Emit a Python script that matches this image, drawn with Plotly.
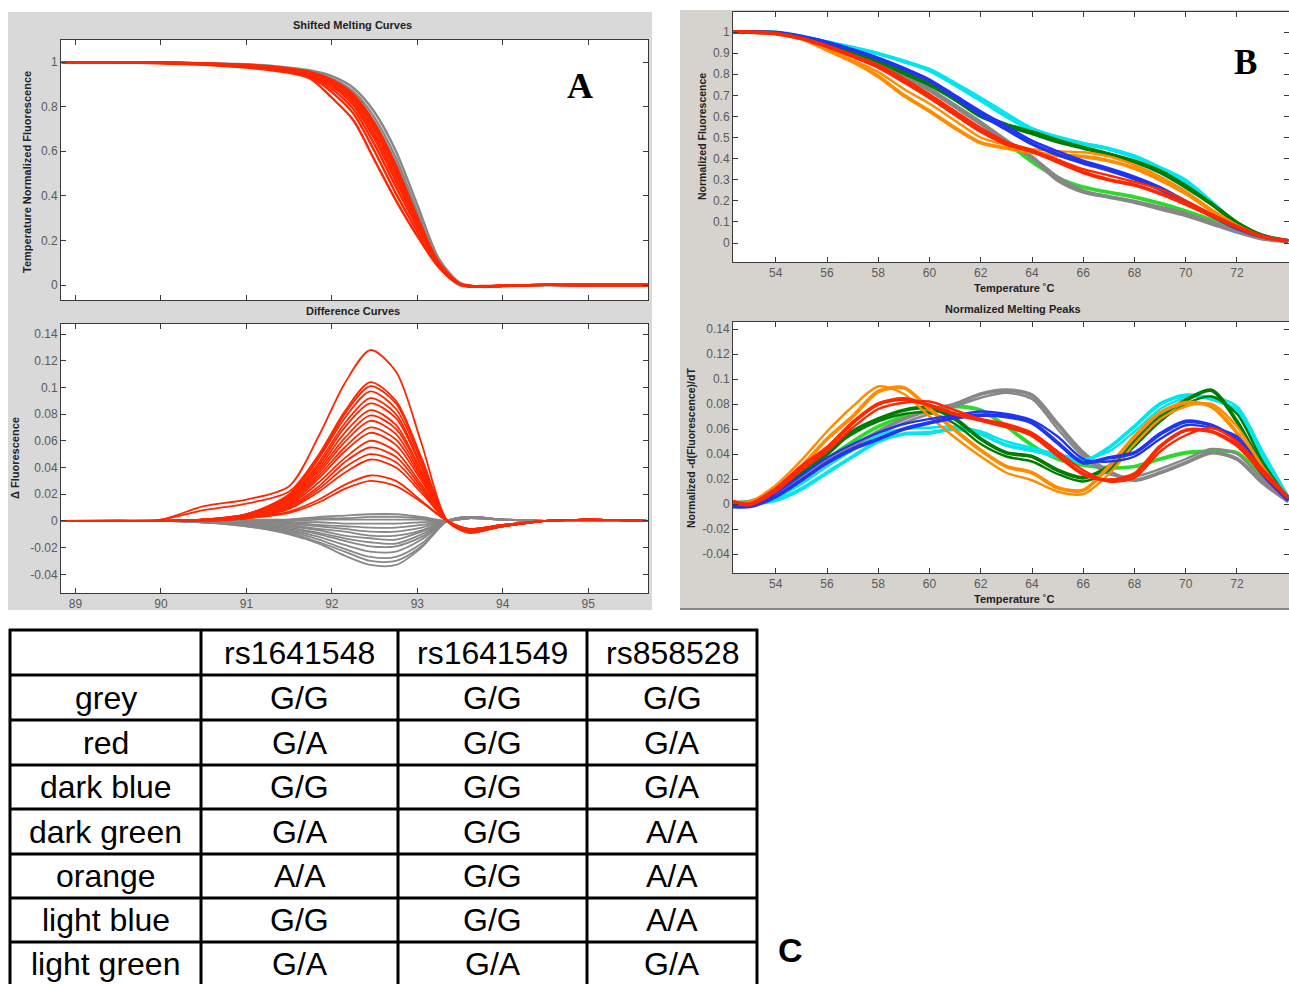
import plotly.graph_objects as go

W, H = 1289, 984


def px(x):
    return x / W


def py(y):
    return 1 - y / H


# ---------------- Panel A : shifted melting curves ----------------
a_top_x = [88.84, 89.5, 90.0, 90.5, 91.0, 91.25, 91.5, 91.75, 92.0, 92.25,
           92.5, 92.75, 93.0, 93.25, 93.5, 93.75, 94.0, 94.5, 95.0, 95.7]
a_top_grey = [
    [1.0, 1.0, 0.998, 0.995, 0.99, 0.985, 0.975, 0.962, 0.937, 0.885, 0.775, 0.6, 0.36, 0.12, 0.01, -0.008, -0.005, 0.0, 0.0, 0.0],
    [1.0, 1.0, 0.998, 0.994, 0.988, 0.982, 0.971, 0.955, 0.926, 0.868, 0.75, 0.57, 0.33, 0.1, 0.005, -0.008, -0.004, 0.0, 0.0, 0.0],
    [1.0, 1.0, 0.997, 0.993, 0.986, 0.979, 0.966, 0.948, 0.915, 0.852, 0.728, 0.545, 0.31, 0.09, 0.003, -0.007, -0.004, 0.0, 0.0, 0.0],
]
a_top_red = [
    [1.0, 0.998, 0.994, 0.988, 0.975, 0.965, 0.952, 0.925, 0.84, 0.74, 0.56, 0.38, 0.22, 0.08, 0.0, -0.004, -0.002, 0.002, 0.0, 0.0],
    [1.0, 0.999, 0.996, 0.99, 0.979, 0.97, 0.958, 0.935, 0.865, 0.77, 0.6, 0.41, 0.24, 0.085, 0.002, -0.006, -0.003, 0.001, 0.0, 0.0],
    [1.0, 0.999, 0.997, 0.991, 0.982, 0.973, 0.962, 0.94, 0.88, 0.79, 0.63, 0.44, 0.26, 0.095, 0.003, -0.007, -0.003, 0.001, 0.0, 0.0],
    [1.0, 1.0, 0.997, 0.992, 0.984, 0.976, 0.965, 0.945, 0.893, 0.808, 0.655, 0.465, 0.275, 0.1, 0.004, -0.007, -0.003, 0.001, 0.0, 0.0],
    [1.0, 1.0, 0.997, 0.993, 0.985, 0.978, 0.967, 0.948, 0.9, 0.822, 0.675, 0.485, 0.285, 0.1, 0.004, -0.007, -0.003, 0.001, 0.0, 0.0],
    [1.0, 1.0, 0.998, 0.993, 0.986, 0.979, 0.968, 0.951, 0.908, 0.835, 0.695, 0.505, 0.295, 0.1, 0.004, -0.007, -0.003, 0.001, 0.0, 0.0],
    [1.0, 1.0, 0.998, 0.994, 0.987, 0.98, 0.969, 0.953, 0.915, 0.845, 0.71, 0.52, 0.3, 0.1, 0.004, -0.007, -0.003, 0.001, 0.0, 0.0],
    [1.0, 1.0, 0.998, 0.994, 0.987, 0.981, 0.97, 0.955, 0.92, 0.855, 0.725, 0.535, 0.305, 0.1, 0.004, -0.007, -0.003, 0.001, 0.0, 0.0],
]

# ---------------- Panel A : difference curves ----------------
a_bot_x = [88.84, 89.5, 90.0, 90.5, 91.0, 91.5, 91.85, 92.15, 92.45, 92.75,
           93.05, 93.35, 93.6, 94.0, 94.5, 95.0, 95.7]
a_bot_grey = [
    [0, 0, 0, 0.0, 0.001, 0.001, 0.003, 0.004, 0.005, 0.005, 0.003, 0.0, 0.002, 0.001, 0, 0, 0],
    [0, 0, 0, 0.0, 0.0, 0.001, 0.002, 0.002, 0.003, 0.003, 0.002, 0.0, 0.002, 0.001, 0, 0, 0],
    [0, 0, 0, 0.0, 0.0, 0.0, 0.001, 0.001, 0.001, 0.001, 0.001, 0.0, 0.002, 0.001, 0, 0, 0],
    [0, 0, 0, 0.0, 0.0, -0.001, -0.001, -0.002, -0.002, -0.002, -0.001, 0.0, 0.002, 0.001, 0, 0, 0],
    [0, 0, 0, 0.0, -0.001, -0.001, -0.003, -0.004, -0.005, -0.005, -0.003, 0.0, 0.002, 0.001, 0, 0, 0],
    [0, 0, 0, 0.0, -0.001, -0.002, -0.004, -0.006, -0.008, -0.008, -0.005, 0.0, 0.003, 0.001, 0, 0, 0],
    [0, 0, 0, 0.0, -0.001, -0.003, -0.006, -0.008, -0.011, -0.011, -0.007, 0.0, 0.003, 0.001, 0, 0, 0],
    [0, 0, 0, 0.0, -0.002, -0.004, -0.007, -0.011, -0.013, -0.014, -0.008, 0.0, 0.003, 0.001, 0, 0, 0],
    [0, 0, 0, -0.001, -0.002, -0.005, -0.009, -0.013, -0.016, -0.017, -0.010, 0.0, 0.003, 0.001, 0, 0, 0],
    [0, 0, 0, -0.001, -0.002, -0.006, -0.010, -0.015, -0.019, -0.019, -0.012, 0.0, 0.003, 0.001, 0, 0, 0],
    [0, 0, 0, -0.001, -0.003, -0.007, -0.012, -0.018, -0.023, -0.023, -0.014, 0.0, 0.003, 0.001, 0, 0, 0],
    [0, 0, 0, -0.001, -0.003, -0.008, -0.014, -0.021, -0.027, -0.027, -0.017, 0.0, 0.003, 0.001, 0, 0, 0],
    [0, 0, 0, -0.001, -0.004, -0.009, -0.016, -0.023, -0.030, -0.030, -0.019, 0.0, 0.003, 0.001, 0, 0, 0],
    [0, 0, 0, -0.001, -0.004, -0.010, -0.017, -0.026, -0.033, -0.033, -0.020, 0.0, 0.003, 0.001, 0, 0, 0],
]
a_bot_red = [
    [0, 0.0005, 0.001, 0.011, 0.016, 0.026, 0.064, 0.103, 0.128, 0.112, 0.058, 0.0, -0.009, -0.004, 0.0, 0.001, 0.0],
    [0, 0.0, 0.001, 0.008, 0.013, 0.022, 0.050, 0.082, 0.104, 0.090, 0.047, 0.0, -0.008, -0.004, 0.0, 0.001, 0.0],
    [0, 0, 0, 0.001, 0.005, 0.020, 0.048, 0.080, 0.101, 0.088, 0.046, 0.0, -0.008, -0.004, 0, 0.001, 0],
    [0, 0, 0, 0.001, 0.005, 0.019, 0.047, 0.077, 0.097, 0.084, 0.044, 0.0, -0.008, -0.004, 0, 0.001, 0],
    [0, 0, 0, 0.001, 0.005, 0.018, 0.044, 0.073, 0.092, 0.080, 0.041, 0.0, -0.007, -0.004, 0, 0.001, 0],
    [0, 0, 0, 0.001, 0.004, 0.018, 0.042, 0.070, 0.088, 0.077, 0.040, 0.0, -0.008, -0.004, 0, 0.001, 0],
    [0, 0, 0, 0.001, 0.004, 0.017, 0.040, 0.066, 0.083, 0.072, 0.037, 0.0, -0.007, -0.004, 0, 0.001, 0],
    [0, 0, 0, 0.001, 0.004, 0.016, 0.038, 0.062, 0.079, 0.069, 0.036, 0.0, -0.008, -0.004, 0, 0.001, 0],
    [0, 0, 0, 0.001, 0.004, 0.015, 0.036, 0.059, 0.075, 0.065, 0.034, 0.0, -0.007, -0.004, 0, 0.001, 0],
    [0, 0, 0, 0.001, 0.004, 0.014, 0.034, 0.055, 0.070, 0.061, 0.032, 0.0, -0.007, -0.004, 0, 0.001, 0],
    [0, 0, 0, 0.001, 0.003, 0.013, 0.032, 0.052, 0.066, 0.057, 0.030, 0.0, -0.007, -0.004, 0, 0.001, 0],
    [0, 0, 0, 0.001, 0.003, 0.012, 0.029, 0.047, 0.060, 0.052, 0.027, 0.0, -0.007, -0.004, 0, 0.001, 0],
    [0, 0, 0, 0.001, 0.003, 0.011, 0.026, 0.044, 0.055, 0.048, 0.025, 0.0, -0.006, -0.003, 0, 0.001, 0],
    [0, 0, 0, 0.001, 0.003, 0.010, 0.024, 0.040, 0.050, 0.044, 0.023, 0.0, -0.007, -0.003, 0, 0.001, 0],
    [0, 0, 0, 0.001, 0.002, 0.009, 0.022, 0.036, 0.046, 0.040, 0.021, 0.0, -0.006, -0.003, 0, 0.001, 0],
    [0, 0, 0, 0.0, 0.002, 0.007, 0.016, 0.027, 0.034, 0.030, 0.015, 0.0, -0.006, -0.003, 0, 0.001, 0],
    [0, 0, 0, 0.0, 0.002, 0.006, 0.014, 0.024, 0.030, 0.026, 0.014, 0.0, -0.006, -0.003, 0, 0.001, 0],
]

# ---------------- Panel B : temperatures ----------------
b_x = [52.33, 53, 54, 55, 56, 57, 58, 59, 60, 61, 62, 63, 64, 65, 66, 67,
       68, 69, 70, 71, 72, 73, 74]

# normalized fluorescence (melting curves)
b_top_lightgreen = [
    [1.0, 1.0, 0.995, 0.975, 0.945, 0.905, 0.86, 0.795, 0.725, 0.65, 0.57, 0.478, 0.385, 0.31, 0.265, 0.24, 0.218, 0.188, 0.152, 0.11, 0.068, 0.028, 0.01],
]
b_top_grey = [
    [1.0, 1.0, 0.995, 0.975, 0.945, 0.905, 0.858, 0.79, 0.725, 0.645, 0.565, 0.48, 0.405, 0.298, 0.242, 0.218, 0.194, 0.162, 0.131, 0.092, 0.052, 0.02, 0.008],
    [1.0, 1.0, 0.996, 0.978, 0.95, 0.91, 0.865, 0.8, 0.735, 0.655, 0.575, 0.49, 0.41, 0.315, 0.25, 0.222, 0.2, 0.172, 0.142, 0.102, 0.06, 0.025, 0.009],
]
b_top_cyan = [
    [1.0, 1.0, 0.998, 0.98, 0.952, 0.925, 0.897, 0.86, 0.818, 0.75, 0.676, 0.6, 0.534, 0.5, 0.47, 0.445, 0.407, 0.355, 0.29, 0.19, 0.09, 0.035, 0.01],
    [1.0, 1.0, 0.998, 0.982, 0.955, 0.93, 0.9, 0.865, 0.825, 0.76, 0.69, 0.615, 0.545, 0.505, 0.475, 0.45, 0.415, 0.36, 0.3, 0.2, 0.095, 0.037, 0.01],
]
b_top_darkgreen = [
    [1.0, 1.0, 0.996, 0.975, 0.945, 0.905, 0.86, 0.805, 0.75, 0.68, 0.6, 0.555, 0.52, 0.48, 0.45, 0.42, 0.385, 0.335, 0.265, 0.185, 0.095, 0.035, 0.01],
    [1.0, 1.0, 0.996, 0.976, 0.947, 0.91, 0.865, 0.812, 0.755, 0.69, 0.615, 0.565, 0.53, 0.49, 0.455, 0.425, 0.39, 0.345, 0.275, 0.19, 0.1, 0.037, 0.01],
]
b_top_orange = [
    [1.0, 1.0, 0.993, 0.968, 0.915, 0.86, 0.79, 0.7, 0.625, 0.545, 0.475, 0.45, 0.43, 0.415, 0.41, 0.39, 0.355, 0.3, 0.235, 0.155, 0.08, 0.03, 0.01],
    [1.0, 1.0, 0.994, 0.97, 0.92, 0.868, 0.81, 0.73, 0.66, 0.58, 0.5, 0.465, 0.445, 0.435, 0.43, 0.41, 0.37, 0.315, 0.245, 0.16, 0.085, 0.032, 0.01],
]
b_top_blue = [
    [1.0, 1.0, 0.997, 0.978, 0.95, 0.915, 0.874, 0.825, 0.77, 0.69, 0.61, 0.54, 0.47, 0.42, 0.38, 0.345, 0.305, 0.255, 0.195, 0.13, 0.07, 0.03, 0.01],
    [1.0, 1.0, 0.997, 0.98, 0.953, 0.918, 0.878, 0.83, 0.775, 0.7, 0.625, 0.555, 0.485, 0.435, 0.39, 0.355, 0.315, 0.265, 0.2, 0.135, 0.072, 0.03, 0.01],
]
b_top_red = [
    [1.0, 1.0, 0.993, 0.97, 0.932, 0.885, 0.834, 0.765, 0.69, 0.61, 0.53, 0.47, 0.435, 0.385, 0.335, 0.3, 0.275, 0.235, 0.185, 0.13, 0.075, 0.03, 0.01],
    [1.0, 1.0, 0.994, 0.972, 0.936, 0.892, 0.845, 0.78, 0.705, 0.625, 0.545, 0.48, 0.44, 0.395, 0.35, 0.32, 0.29, 0.255, 0.2, 0.138, 0.08, 0.032, 0.01],
]

# normalized melting peaks (-dF/dT)
b_bot_lightgreen = [
    [0.001, 0.002, 0.01, 0.022, 0.036, 0.05, 0.062, 0.07, 0.075, 0.078, 0.075, 0.062, 0.047, 0.036, 0.031, 0.029, 0.03, 0.036, 0.041, 0.042, 0.041, 0.021, 0.002],
]
b_bot_grey = [
    [0.001, 0.002, 0.01, 0.022, 0.035, 0.046, 0.058, 0.068, 0.075, 0.08, 0.088, 0.091, 0.087, 0.064, 0.041, 0.026, 0.019, 0.025, 0.033, 0.041, 0.036, 0.017, 0.002],
    [0.001, 0.001, 0.008, 0.02, 0.032, 0.043, 0.055, 0.065, 0.072, 0.078, 0.085, 0.089, 0.084, 0.06, 0.038, 0.024, 0.022, 0.028, 0.036, 0.044, 0.04, 0.02, 0.003],
]
b_bot_cyan = [
    [0.0, 0.0, 0.003, 0.012, 0.025, 0.038, 0.05, 0.056, 0.057, 0.06, 0.056, 0.047, 0.043, 0.038, 0.034, 0.045, 0.062, 0.08, 0.087, 0.084, 0.075, 0.038, 0.005],
    [0.0, 0.0, 0.005, 0.016, 0.03, 0.043, 0.055, 0.06, 0.061, 0.062, 0.058, 0.05, 0.045, 0.04, 0.036, 0.042, 0.058, 0.076, 0.085, 0.086, 0.078, 0.042, 0.006],
]
b_bot_darkgreen = [
    [0.0, 0.0, 0.01, 0.025, 0.04, 0.058, 0.068, 0.075, 0.077, 0.068, 0.052, 0.041, 0.038, 0.027, 0.021, 0.03, 0.05, 0.07, 0.083, 0.091, 0.066, 0.03, 0.003],
    [0.0, 0.001, 0.012, 0.027, 0.042, 0.056, 0.066, 0.072, 0.073, 0.064, 0.048, 0.038, 0.034, 0.024, 0.018, 0.027, 0.046, 0.066, 0.08, 0.086, 0.072, 0.034, 0.004],
]
b_bot_orange = [
    [0.001, 0.001, 0.012, 0.03, 0.052, 0.07, 0.09, 0.093, 0.076, 0.059, 0.043, 0.03, 0.025, 0.013, 0.011, 0.03, 0.054, 0.073, 0.081, 0.078, 0.057, 0.027, 0.003],
    [0.0, 0.002, 0.015, 0.035, 0.058, 0.078, 0.094, 0.088, 0.07, 0.053, 0.038, 0.025, 0.019, 0.01, 0.008, 0.024, 0.048, 0.068, 0.078, 0.08, 0.062, 0.03, 0.004],
]
b_bot_blue = [
    [-0.002, -0.002, 0.006, 0.019, 0.033, 0.044, 0.052, 0.06, 0.065, 0.069, 0.071, 0.07, 0.065, 0.049, 0.033, 0.037, 0.041, 0.056, 0.066, 0.063, 0.051, 0.024, 0.003],
    [-0.001, -0.002, 0.009, 0.023, 0.037, 0.048, 0.057, 0.064, 0.068, 0.071, 0.074, 0.072, 0.067, 0.054, 0.036, 0.034, 0.038, 0.052, 0.063, 0.061, 0.054, 0.027, 0.004],
]
b_bot_red = [
    [0.002, 0.0, 0.012, 0.03, 0.045, 0.065, 0.08, 0.084, 0.079, 0.072, 0.067, 0.062, 0.055, 0.039, 0.024, 0.019, 0.024, 0.046, 0.059, 0.058, 0.047, 0.025, 0.005],
    [0.001, -0.001, 0.01, 0.027, 0.042, 0.061, 0.076, 0.081, 0.082, 0.075, 0.068, 0.064, 0.057, 0.042, 0.027, 0.018, 0.021, 0.042, 0.055, 0.061, 0.05, 0.028, 0.006],
]

# ---------------- Ticks ----------------
a_xticks = [89, 90, 91, 92, 93, 94, 95]
a_xlabels = ["89", "90", "91", "92", "93", "94", "95"]
a_top_yticks = [0, 0.2, 0.4, 0.6, 0.8, 1]
a_top_ylabels = ["0", "0.2", "0.4", "0.6", "0.8", "1"]
diff_yticks = [-0.04, -0.02, 0, 0.02, 0.04, 0.06, 0.08, 0.1, 0.12, 0.14]
diff_ylabels = ["-0.04", "-0.02", "0", "0.02", "0.04", "0.06", "0.08", "0.1", "0.12", "0.14"]
b_xticks = [54, 56, 58, 60, 62, 64, 66, 68, 70, 72, 74]
b_xlabels = ["54", "56", "58", "60", "62", "64", "66", "68", "70", "72", "74"]
b_top_yticks = [0, 0.1, 0.2, 0.3, 0.4, 0.5, 0.6, 0.7, 0.8, 0.9, 1]
b_top_ylabels = ["0", "0.1", "0.2", "0.3", "0.4", "0.5", "0.6", "0.7", "0.8", "0.9", "1"]

# ---------------- Table C ----------------
snp_ids = ["rs1641548", "rs1641549", "rs858528"]
group_names = ["grey", "red", "dark blue", "dark green", "orange", "light blue", "light green"]
genotypes = [
    ["G/G", "G/G", "G/G"],
    ["G/A", "G/G", "G/A"],
    ["G/G", "G/G", "G/A"],
    ["G/A", "G/G", "A/A"],
    ["A/A", "G/G", "A/A"],
    ["G/G", "G/G", "A/A"],
    ["G/A", "G/A", "G/A"],
]

COL = {
    "grey": "#878787",
    "red": "#FF2600",
    "blue": "#1F35F2",
    "darkgreen": "#007D00",
    "orange": "#FF8C00",
    "cyan": "#00E5EE",
    "lightgreen": "#2BDB2B",
}

fig = go.Figure()


def add_curves(xs, curves, color, xa, ya, widths):
    for i, ys in enumerate(curves):
        w = widths[min(i, len(widths) - 1)]
        fig.add_trace(go.Scatter(x=xs, y=ys, mode="lines", xaxis=xa, yaxis=ya,
                                 line=dict(color=color, width=w, shape="spline", smoothing=0.8),
                                 hoverinfo="skip", showlegend=False))


add_curves(a_top_x, a_top_grey, COL["grey"], "x", "y", [2.4])
add_curves(a_top_x, a_top_red, COL["red"], "x", "y", [2.4])
add_curves(a_bot_x, a_bot_grey, COL["grey"], "x2", "y2", [1.8])
add_curves(a_bot_x, a_bot_red, COL["red"], "x2", "y2", [1.8])

for grp in ["lightgreen", "grey", "cyan", "darkgreen", "orange", "blue", "red"]:
    add_curves(b_x, globals()["b_top_" + grp], COL[grp], "x3", "y3", [3.8, 2.4])
    add_curves(b_x, globals()["b_bot_" + grp], COL[grp], "x4", "y4", [3.8, 2.4])

tickfont = dict(family="Liberation Sans, Arial, sans-serif", size=12, color="#5a5a5a")
base_ax = dict(showline=True, linecolor="#3a3a3a", linewidth=1, mirror="ticks",
               ticks="inside", ticklen=5, tickcolor="#3a3a3a", showgrid=False,
               zeroline=False, tickfont=tickfont, fixedrange=True)

dA_x = [px(61), px(648)]
dB_x = [px(733), px(1289)]

fig.update_layout(
    width=W, height=H, autosize=False,
    margin=dict(l=0, r=0, t=0, b=0),
    paper_bgcolor="white", plot_bgcolor="rgba(0,0,0,0)",
    showlegend=False,
    xaxis=dict(base_ax, domain=dA_x, range=[88.83, 95.7], tickvals=a_xticks,
               ticktext=a_xlabels, showticklabels=False, anchor="y"),
    yaxis=dict(base_ax, domain=[py(300), py(40)], range=[-0.067, 1.099],
               tickvals=a_top_yticks, ticktext=a_top_ylabels, anchor="x"),
    xaxis2=dict(base_ax, domain=dA_x, range=[88.83, 95.7], tickvals=a_xticks,
                ticktext=a_xlabels, anchor="y2"),
    yaxis2=dict(base_ax, domain=[py(593), py(324)], range=[-0.054, 0.1475],
                tickvals=diff_yticks, ticktext=diff_ylabels, anchor="x2"),
    xaxis3=dict(base_ax, domain=dB_x, range=[52.33, 74.03], tickvals=b_xticks,
                ticktext=b_xlabels, anchor="y3"),
    yaxis3=dict(base_ax, domain=[py(262), py(12)], range=[-0.09, 1.095],
                tickvals=b_top_yticks, ticktext=b_top_ylabels, anchor="x3"),
    xaxis4=dict(base_ax, domain=dB_x, range=[52.33, 74.03], tickvals=b_xticks,
                ticktext=b_xlabels, anchor="y4"),
    yaxis4=dict(base_ax, domain=[py(573), py(322)], range=[-0.0552, 0.1456],
                tickvals=diff_yticks, ticktext=diff_ylabels, anchor="x4"),
)

shapes = []
# grey figure windows
shapes.append(dict(type="rect", xref="paper", yref="paper", layer="below",
                   x0=px(8), x1=px(652), y0=py(610), y1=py(12),
                   fillcolor="#D9D9D9", line=dict(width=0)))
shapes.append(dict(type="rect", xref="paper", yref="paper", layer="below",
                   x0=px(680), x1=px(1289), y0=py(610), y1=py(10),
                   fillcolor="#D6D3CE", line=dict(width=0)))
shapes.append(dict(type="line", xref="paper", yref="paper", layer="below",
                   x0=px(680), x1=px(1289), y0=py(609), y1=py(609),
                   line=dict(color="#707070", width=1.5)))
# white plot areas
for (x0, x1, y0, y1) in [(61, 648, 40, 300), (61, 648, 324, 593),
                         (733, 1289, 12, 262), (733, 1289, 322, 573)]:
    shapes.append(dict(type="rect", xref="paper", yref="paper", layer="below",
                       x0=px(x0), x1=px(x1), y0=py(y1), y1=py(y0),
                       fillcolor="white", line=dict(width=0)))

# table grid
t_left, t_right = 10, 757
col_edges = [10, 201, 398, 587, 757]
row_edges = [630, 675, 720, 765, 809, 854, 898, 942]
for yy in row_edges:
    shapes.append(dict(type="line", xref="paper", yref="paper",
                       x0=px(t_left - 1), x1=px(t_right + 1), y0=py(yy), y1=py(yy),
                       line=dict(color="black", width=3)))
for xx in col_edges:
    shapes.append(dict(type="line", xref="paper", yref="paper",
                       x0=px(xx), x1=px(xx), y0=py(629), y1=py(990),
                       line=dict(color="black", width=3)))

annotations = []
title_font = dict(family="Liberation Sans, Arial, sans-serif", size=11, color="#222222")


def ann(text, x, y, font, angle=0, xanchor="center", yanchor="middle"):
    annotations.append(dict(text=text, x=px(x), y=py(y), xref="paper", yref="paper",
                            showarrow=False, font=font, textangle=angle,
                            xanchor=xanchor, yanchor=yanchor))


ann("<b>Shifted Melting Curves</b>", 353, 25, title_font)
ann("<b>Difference Curves</b>", 353, 311, title_font)
ann("<b>Temperature Normalized Fluorescence</b>", 27, 172, title_font, angle=-90)
ann("<b>\u0394 Fluorescence</b>", 15, 458, title_font, angle=-90)
ann("<b>Normalized Fluorescence</b>", 702, 137, dict(title_font, size=10.5), angle=-90)
ann("<b>Normalized -d(Fluorescence)/dT</b>", 691, 448, dict(title_font, size=10.5), angle=-90)
ann("<b>Temperature \u02daC</b>", 1014, 288, title_font)
ann("<b>Normalized Melting Peaks</b>", 1013, 309, title_font)
ann("<b>Temperature \u02daC</b>", 1014, 599, title_font)

ann("<b>A</b>", 580, 86, dict(family="Liberation Serif, Times New Roman, serif", size=36, color="black"))
ann("<b>B</b>", 1245, 63, dict(family="Liberation Serif, Times New Roman, serif", size=35, color="black"))
ann("<b>C</b>", 790, 950, dict(family="Liberation Sans, Arial, sans-serif", size=34, color="black"))

cell_font = dict(family="Liberation Sans, Arial, sans-serif", size=32, color="black")
col_centers = [(col_edges[i] + col_edges[i + 1]) / 2 for i in range(4)]
row_centers = [(row_edges[i] + row_edges[i + 1]) / 2 for i in range(len(row_edges) - 1)] + [964]
for j, s in enumerate(snp_ids):
    ann(s, col_centers[j + 1], row_centers[0], cell_font)
for i, name in enumerate(group_names):
    ann(name, col_centers[0], row_centers[i + 1], cell_font)
    for j, g in enumerate(genotypes[i]):
        ann(g, col_centers[j + 1], row_centers[i + 1], cell_font)

fig.update_layout(shapes=shapes, annotations=annotations)
fig.write_html("out.html", config={"displayModeBar": False},
               post_script="document.body.style.margin='0px';document.body.style.overflow='hidden';")
